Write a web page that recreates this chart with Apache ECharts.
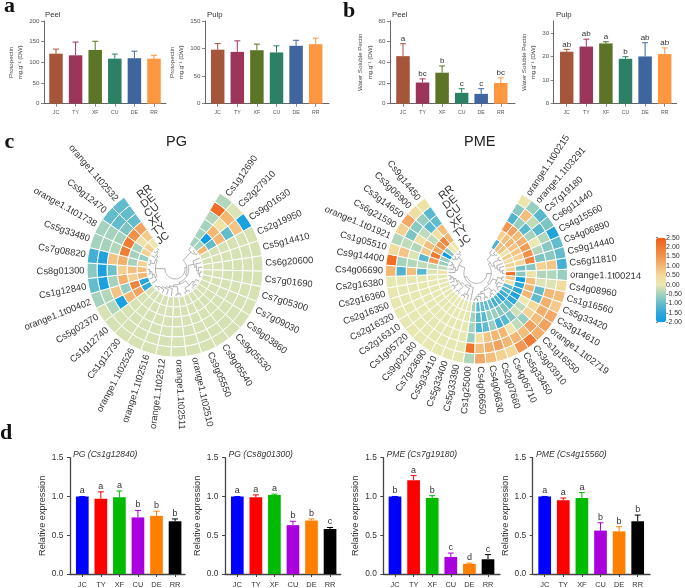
<!DOCTYPE html>
<html><head><meta charset="utf-8">
<style>html,body{margin:0;padding:0;background:#fff}#c{width:685px;height:588px}</style>
<script src="https://cdn.jsdelivr.net/npm/echarts@6/dist/echarts.min.js"></script>
</head><body><div id="c"></div>
<script>
// ---------- DATA ----------
const cultivars = ['JC','TY','XF','CU','DE','RR'];
const protoPeelMean = [121,117,130,109,110,109];
const protoPeelTop  = [132,149,151,120,127,117];
const protoPulpMean = [98,94,97,93,105,108];
const protoPulpTop  = [109,114,108,105,115,119];
const wspPeelMean = [46,20.5,30,10.5,9.5,20];
const wspPeelTop  = [58,24,36.5,14.5,14.5,25];
const wspPeelSig  = ['a','bc','b','c','c','bc'];
const wspPulpMean = [22,24.2,25.5,19,20,21];
const wspPulpTop  = [23,27.3,26.2,19.9,25.8,23.6];
const wspPulpSig  = ['ab','ab','a','b','ab','ab'];
const pg1Mean = [1,.97,.99,.73,.75,.68];
const pg1Top  = [1,1.06,1.07,.82,.81,.71];
const pg1Sig  = ['a','a','a','b','b','b'];
const pg2Mean = [1,.99,1.02,.63,.69,.58];
const pg2Top  = [1,1.02,1.03,.68,.71,.6];
const pg2Sig  = ['a','a','a','b','b','c'];
const pme1Mean = [1,1.21,.98,.22,.13,.19];
const pme1Top  = [1,1.27,1.01,.27,.14,.25];
const pme1Sig  = ['b','a','b','c','d','c'];
const pme2Mean = [1,.95,.98,.56,.55,.68];
const pme2Top  = [1,.98,1.05,.66,.61,.76];
const pme2Sig  = ['a','a','a','b','b','b'];
const pgGenes = ['Cs1g12690','Cs2g27910','Cs9g01630','Cs2g19950','Cs5g14410','Cs6g20600','Cs7g01690','Cs7g05300','Cs7g09030','Cs9g03860','Cs9g05530','Cs9g05540','Cs9g05550','orange1.1t02510','orange1.1t02511','orange1.1t02512','orange1.1t02516','orange1.1t02526','Cs1g12730','Cs1g12740','Cs5g02370','orange1.1t00402','Cs1g12840','Cs8g01300','Cs7g08820','Cs5g33480','orange1.1t01738','Cs9g12470','orange1.1t02532'];
const pgValues = [
[-.5,-.5,-.5,-.4,2.2,-.4],[-.5,-2,1,.2,1,-.1],[1,-1,1,-1,.8,-1.8],
[-.15,-.15,-.15,-.15,-.15,-.15],[-.15,-.15,-.15,-.15,-.15,-.15],[-.15,-.15,-.15,-.15,-.15,-.15],
[-.15,-.15,-.15,-.15,-.15,-.15],[-.15,-.15,-.15,-.15,-.15,-.15],[-.15,-.15,-.15,-.15,-.15,-.15],
[-.15,-.15,-.15,-.15,-.15,-.15],[-.15,-.15,-.15,-.15,-.15,-.15],[-.15,-.15,-.15,-.15,-.15,-.15],
[-.15,-.15,-.15,-.15,-.15,-.15],[-.15,-.15,-.15,-.15,-.15,-.15],[-.15,-.15,-.15,-.15,-.15,-.15],
[-.15,-.15,-.15,-.15,-.15,-.15],[-.15,-.15,-.15,-.15,-.15,-.15],[-.15,-.15,-.15,-.15,-.15,-.15],
[-.15,-.15,-.15,-.15,-.15,-.15],[-.15,-.15,-.15,-.15,-.15,-.15],
[-1.5,1.3,1,-1.8,-.4,-.15],[-1.6,1.8,-.6,.8,-.4,-.5],[1,.6,1.1,-.5,-1.8,-1],[.9,.9,.6,-.9,-1.8,-.7],
[.6,-.5,1.1,.8,-1.7,-1.3],[-.6,-.5,1.9,-.4,-.5,-.5],[.6,-.5,2,-.5,-.5,-.5],[.6,.2,1.6,-.8,-1,-1],[.1,.7,1.3,-1,-1,-1]];
const pmeGenes = ['orange1.1t00215','orange1.1t03291','Cs7g19180','Cs6g11440','Cs4g15560','Cs4g06890','Cs9g14440','Cs6g11810','orange1.1t00214','Cs4g08960','Cs1g16560','Cs5g33420','Cs3g14610','orange1.1t02719','Cs1g16550','Cs3g03910','Cs5g33450','Cs4g06710','Cs2g07660','Cs4g06630','Cs4g06650','Cs1g25000','Cs5g33390','Cs5g33400','Cs5g33410','Cs7g23690','Cs9g02180','Cs1g05720','Cs2g16310','Cs2g16320','Cs2g16350','Cs2g16360','Cs2g16380','Cs4g06690','Cs9g14400','Cs1g05510','orange1.1t01921','Cs6g21590','Cs3g14650','Cs3g06900','Cs9g14450'];
const pmeValues = [
[-1.2,.6,1.5,-1.2,-.7,.1],[.9,.9,1.3,-.6,.9,-.6],[.8,1,.9,-1.1,-.3,-1.1],[.1,.8,1.1,-.5,-1.1,-.8],
[.7,.8,1.4,0,-.4,-1.7],[.4,.6,1.6,-.4,-.7,-1],[.6,.5,1.8,-.8,-.7,-1],[.5,-.9,-.7,.6,.8,-1.3],
[2.2,-.7,.2,-.4,-.4,-.6],[.8,-1.9,.9,-.1,-.1,.4],[.2,-1.5,1,-1,1,.9],[-1,-1.5,1,-1,1.1,.7],
[-1.1,-1.7,0,.5,1.1,1.2],[-1.3,-1.5,-.3,.6,.9,1.3],[-1.6,-1,-.2,-.6,1.3,1.1],[-1.2,-.8,-.8,-.3,.9,2],
[-1.3,-.7,-1.1,.1,1,1.5],[-1,-.6,-1.3,1,1,.5],[-1,-.6,-.6,1,1.3,.6],[-1,-1.1,-1,.8,1.1,.9],
[-1.1,-1.1,-1.2,.3,.9,1.2],[-.5,-.5,-.5,-.6,2.1,-.4],
[-.03,-.03,-.03,-.03,-.03,-.03],[-.03,-.03,-.03,-.03,-.03,-.03],[-.03,-.03,-.03,-.03,-.03,-.03],
[-.03,-.03,-.03,-.03,-.03,-.03],[-.03,-.03,-.03,-.03,-.03,-.03],[-.03,-.03,-.03,-.03,-.03,-.03],
[-.03,-.03,-.03,-.03,-.03,-.03],[-.03,-.03,-.03,-.03,-.03,-.03],[-.03,-.03,-.03,-.03,-.03,-.03],
[-.03,-.03,-.03,-.03,-.03,-.03],[-.03,-.03,-.03,-.03,-.03,-.03],
[.3,-.1,-1.1,.9,-1.2,1],[-.3,-.3,-.3,-.4,-.5,2.2],[-.6,1.4,-1.1,-.1,.8,.4],[-.6,2,.7,-.4,-.3,-.4],
[-2,1.2,.9,.3,-.8,.6],[-.7,1.5,-.3,-.3,-.7,1.2],[0,1.8,.3,-1.1,-.6,.3],[0,1,.9,-1,-1.1,.2]];
// cluster structure: nested groups of consecutive genes
const pgTree = [[[0,[0,0]],[[0,[0,[0,[0,0]]]],[[[0,[0,0]],[0,0]],[[0,0],[0,[0,[0,[0,0]]]]]]]],[[0,[0,[0,0]]],[[0,0],[0,[0,0]]]]];
const pmeTree = [[[[0,[0,0]],[[0,0],[0,[0,[0,0]]]]],[[[0,0],[0,[0,0]]],[[0,[0,0]],[[0,0],[0,[0,0]]]]]],[[0,[[0,[0,0]],[[0,0],[[0,0],[0,[0,0]]]]]],[[0,[0,[0,0]]],[[0,0],[0,0]]]]];
const colorTicks = [-2,-1.5,-1,-.5,0,.5,1,1.5,2,2.5];
const colorStops = ['#0d9ce6','#2ea8d8','#63bccb','#a4d2bd','#ebe8b0','#f3d89a','#f3b673','#f19550','#f07a32','#ef5b14'];
const soilColors = ['#a5553a','#9c355a','#5b7428','#2b8065','#3f659f','#ff9640'];
const qpcrColors = ['#0000ff','#ff0000','#00bb00','#aa00dd','#ff8000','#000000'];

// ---------- LAYOUT ----------
const SANS = '"Liberation Sans",Arial,sans-serif';
const small = {axis:'#666',axisW:1,text:'#555',yFont:6.2,xFont:5.2,nameFont:6.2,titleFont:7.8,barW:13.5,cap:3,sigFont:8,y0:103.7,top:21,tick:3,nameColor:'#444',xMargin:6,yMargin:4.5,line:9.5};
const large = {axis:'#444',axisW:1.3,text:'#333',yFont:8.4,xFont:7.4,nameFont:9.2,titleFont:8.6,barW:12.7,cap:3,sigFont:9,y0:574.7,top:457.7,tick:3,nameColor:'#333',titleItalic:true,xMargin:7,yMargin:6.5,line:11};
const panels = [
 {s:small,L:44,R:166,c0:56,step:19.6,max:200,ticks:[0,50,100,150,200],mean:protoPeelMean,topv:protoPeelTop,colors:soilColors,title:'Peel',tx:45,ty:10.5,name:'Protopectin\nmg.g⁻¹ (DW)',gap:18},
 {s:small,L:205,R:329,c0:217.7,step:19.6,max:150,ticks:[0,50,100,150],mean:protoPulpMean,topv:protoPulpTop,colors:soilColors,title:'Pulp',tx:207,ty:10.5,name:'Protopectin\nmg.g⁻¹ (DW)',gap:18},
 {s:small,L:390,R:515,c0:403,step:19.55,max:80,ticks:[0,20,40,60,80],mean:wspPeelMean,topv:wspPeelTop,sig:wspPeelSig,colors:soilColors,title:'Peel',tx:392,ty:10.5,name:'Water Soluble Pectin\nmg.g⁻¹ (DW)',gap:12},
 {s:small,L:553.7,R:676.7,c0:566.7,step:19.6,max:35,ticks:[0,10,20,30],mean:wspPulpMean,topv:wspPulpTop,sig:wspPulpSig,colors:soilColors,title:'Pulp',tx:556,ty:10.5,name:'Water Soluble Pectin\nmg.g⁻¹ (DW)',gap:12},
 {s:large,L:70,R:185,c0:82.3,step:18.55,max:1.5,ticks:[0,.5,1,1.5],mean:pg1Mean,topv:pg1Top,sig:pg1Sig,colors:qpcrColors,title:'PG (Cs1g12840)',tx:73,ty:450,name:'Relative expression',gap:21,dec:1},
 {s:large,L:225,R:340.7,c0:237.3,step:18.55,max:1.5,ticks:[0,.5,1,1.5],mean:pg2Mean,topv:pg2Top,sig:pg2Sig,colors:qpcrColors,title:'PG (Cs8g01300)',tx:228.5,ty:450,name:'Relative expression',gap:21,dec:1},
 {s:large,L:383.3,R:500,c0:395,step:18.6,max:1.5,ticks:[0,.5,1,1.5],mean:pme1Mean,topv:pme1Top,sig:pme1Sig,colors:qpcrColors,title:'PME (Cs7g19180)',tx:386.5,ty:450,name:'Relative expression',gap:21,dec:1},
 {s:large,L:532.7,R:650,c0:544.7,step:18.6,max:1.5,ticks:[0,.5,1,1.5],mean:pme2Mean,topv:pme2Top,sig:pme2Sig,colors:qpcrColors,title:'PME (Cs4g15560)',tx:536,ty:450,name:'Relative expression',gap:21,dec:1}
];
const heats = [
 {genes:pgGenes,values:pgValues,tree:pgTree,center:[175,269],radius:88,startDeg:30.6,stepDeg:10.14,ringAt:338.5,font:9.4},
 {genes:pmeGenes,values:pmeValues,tree:pmeTree,center:[476.5,273],radius:91,startDeg:30,stepDeg:7.205,ringAt:339.5,font:9.4}
];
const RING0 = 2.8, OUTER = 8.8, ROOT_R = 1.0, LEAF_R = 2.72;

// ---------- OPTION ----------
const grid=[],xAxis=[],yAxis=[],series=[],graphic=[];
const text=(t,x,y,o)=>({type:'text',x:x,y:y,silent:true,rotation:o.rotation||0,style:Object.assign({text:t,fontFamily:SANS,fill:'#222',textVerticalAlign:'top'},o.style)});

panels.forEach((p,i)=>{
  const s=p.s;
  grid.push({left:p.L,width:p.R-p.L,top:s.top,height:s.y0-s.top});
  xAxis.push({type:'value',gridIndex:i,min:(p.L-p.c0)/p.step,max:(p.R-p.c0)/p.step,splitLine:{show:false},
    axisLine:{onZero:false,lineStyle:{color:s.axis,width:s.axisW}},
    axisTick:{length:s.tick,customValues:[0,1,2,3,4,5],lineStyle:{color:s.axis,width:s.axisW*0.8}},
    axisLabel:{customValues:[0,1,2,3,4,5],formatter:v=>cultivars[Math.round(v)],color:s.text,fontSize:s.xFont,fontFamily:SANS,margin:s.xMargin,hideOverlap:false}});
  yAxis.push({type:'value',gridIndex:i,min:0,max:p.max,splitLine:{show:false},
    axisLine:{show:true,onZero:false,lineStyle:{color:s.axis,width:s.axisW}},
    axisTick:{show:true,length:s.tick,customValues:p.ticks,lineStyle:{color:s.axis,width:s.axisW*0.8}},
    axisLabel:{customValues:p.ticks,formatter:v=>p.dec?v.toFixed(p.dec):String(v),color:s.text,fontSize:s.yFont,fontFamily:SANS,margin:s.yMargin},
    name:p.name,nameLocation:'middle',nameRotate:90,nameGap:p.gap,
    nameTextStyle:{fontSize:s.nameFont,color:s.nameColor,fontFamily:SANS,lineHeight:s.line}});
  series.push({type:'bar',xAxisIndex:i,yAxisIndex:i,barWidth:s.barW,silent:true,animation:false,
    data:p.mean.map((v,j)=>[j,v]),itemStyle:{color:q=>p.colors[q.dataIndex]}});
  series.push({type:'custom',xAxisIndex:i,yAxisIndex:i,silent:true,animation:false,clip:false,
    encode:{x:0,y:1},data:p.topv.map((v,j)=>[j,v,p.mean[j]]),
    renderItem:(params,api)=>{
      const j=api.value(0),a=api.coord([j,api.value(2)]),b=api.coord([j,api.value(1)]),c=p.colors[j],kids=[];
      const ln={stroke:c,lineWidth:1};
      kids.push({type:'line',shape:{x1:a[0],y1:a[1],x2:b[0],y2:b[1]},style:ln});
      kids.push({type:'line',shape:{x1:b[0]-s.cap,y1:b[1],x2:b[0]+s.cap,y2:b[1]},style:ln});
      if(p.sig) kids.push({type:'text',style:{text:p.sig[j],x:b[0],y:b[1]-1,textAlign:'center',textVerticalAlign:'bottom',fontSize:s.sigFont,fontFamily:SANS,fill:'#333'}});
      return {type:'group',children:kids};
    }});
  graphic.push(text(p.title,p.tx,p.ty,{style:{fontSize:s.titleFont,fontStyle:s.titleItalic?'italic':'normal',fill:'#333'}}));
});

// colour-bar tick axis
const legendIdx=panels.length;
grid.push({left:656,width:10,top:237.7,height:84.6});
xAxis.push({type:'value',gridIndex:legendIdx,show:false,min:0,max:1});
yAxis.push({type:'value',gridIndex:legendIdx,position:'right',min:-2,max:2.5,interval:.5,splitLine:{show:false},
  axisLine:{show:false},axisTick:{show:true,length:2,lineStyle:{color:'#666',width:.8}},
  axisLabel:{formatter:v=>v.toFixed(2),fontSize:7,color:'#333',fontFamily:SANS,margin:2.5}});

// circular heat maps
const polar=[],radiusAxis=[],angleAxis=[],heatSeriesIdx=[];
function treeSegments(tree){
  const height=n=>Array.isArray(n)?1+Math.max(...n.map(height)):0, H=height(tree), rad=h=>LEAF_R-(LEAF_R-ROOT_R)*h/H;
  let leaf=0; const segs=[];
  (function walk(n){
    if(!Array.isArray(n)) return {a:(leaf++)+.5,h:0};
    const kids=n.map(walk),h=1+Math.max(...kids.map(k=>k.h)),r=rad(h);
    kids.forEach(k=>segs.push([rad(k.h),k.a,r,k.a]));
    const as=kids.map(k=>k.a),a0=Math.min(...as),a1=Math.max(...as);
    segs.push([r,a0,r,a1]);
    return {a:(a0+a1)/2,h};
  })(tree);
  return segs;
}
heats.forEach((h,pi)=>{
  polar.push({center:h.center,radius:h.radius});
  radiusAxis.push({polarIndex:pi,type:'value',min:0,max:OUTER,show:false});
  angleAxis.push({polarIndex:pi,type:'value',min:0,max:360/h.stepDeg,startAngle:90-h.startDeg,clockwise:true,show:false});
  const base={type:'custom',coordinateSystem:'polar',polarIndex:pi,silent:true,animation:false,clip:false,encode:{radius:0,angle:1}};
  const cells=[];
  h.values.forEach((row,k)=>row.forEach((v,ring)=>cells.push([ring,k,v])));
  heatSeriesIdx.push(series.length);
  series.push(Object.assign({},base,{data:cells,dimensions:['ring','gene','z'],
    encode:{radius:0,angle:1,value:2},
    renderItem:(params,api)=>{
      const ring=api.value(0),k=api.value(1),cs=params.coordSys,cx=cs.cx,cy=cs.cy;
      const a=api.coord([RING0+ring,k]),b=api.coord([RING0+ring+1,k+1]);
      const r0=Math.hypot(a[0]-cx,a[1]-cy),r=Math.hypot(b[0]-cx,b[1]-cy);
      const sa=Math.atan2(a[1]-cy,a[0]-cx);let ea=Math.atan2(b[1]-cy,b[0]-cx);if(ea<sa)ea+=Math.PI*2;
      return {type:'sector',shape:{cx,cy,r0,r,startAngle:sa,endAngle:ea,clockwise:true},
        style:{fill:api.visual('color'),stroke:'#fff',lineWidth:1}};
    }}));
  series.push(Object.assign({},base,{data:treeSegments(h.tree),encode:{radius:0,angle:1},
    renderItem:(params,api)=>{
      const r1=api.value(0),a1=api.value(1),r2=api.value(2),a2=api.value(3),pts=[];
      const n=r1===r2?Math.max(2,Math.ceil(Math.abs(a2-a1)*3)):1;
      for(let i=0;i<=n;i++)pts.push(api.coord([r1+(r2-r1)*i/n,a1+(a2-a1)*i/n]));
      return {type:'polyline',shape:{points:pts},style:{stroke:'#8e8e8e',lineWidth:.7,fill:null}};
    }}));
  series.push(Object.assign({},base,{data:h.genes.map((g,k)=>[OUTER+.25,k+.5]),
    renderItem:(params,api)=>{
      const k=api.value(1),p=api.coord([api.value(0),k]),deg=h.startDeg+h.stepDeg*k;
      const left=deg>180,rot=(left?270-deg:90-deg)*Math.PI/180;
      return {type:'text',x:p[0],y:p[1],rotation:rot,style:{text:h.genes[params.dataIndex],fontSize:h.font,fontFamily:SANS,fill:'#333',
        textAlign:left?'right':'left',textVerticalAlign:'middle'}};
    }}));
  const ringGene=(h.ringAt-h.startDeg)/h.stepDeg;
  series.push(Object.assign({},base,{data:cultivars.map((c,i)=>[RING0+i+.5,ringGene]),
    renderItem:(params,api)=>{
      const p=api.coord([api.value(0),api.value(1)]);
      return {type:'text',x:p[0],y:p[1],rotation:38*Math.PI/180,style:{text:cultivars[params.dataIndex],fontSize:11,fontFamily:SANS,fill:'#333',textAlign:'center',textVerticalAlign:'middle'}};
    }}));
});

// headings
const heading=(t,x,y,size)=>text(t,x,y,{style:{fontSize:size||22,fontWeight:'bold',fontFamily:'"Liberation Serif",serif',fill:'#111',textVerticalAlign:'bottom'}});
graphic.push(heading('a',4,17),heading('b',343,22),heading('c',4.5,153),heading('d',0,444));
graphic.push(text('PG',166,134,{style:{fontSize:14.5,fill:'#222'}}));
graphic.push(text('PME',464,134,{style:{fontSize:14.5,fill:'#222'}}));

const option={animation:false,backgroundColor:'#fff',grid,xAxis,yAxis,polar,radiusAxis,angleAxis,series,
  graphic:{elements:graphic},
  visualMap:{type:'continuous',min:-2,max:2.5,dimension:2,seriesIndex:heatSeriesIdx,inRange:{color:colorStops},
    left:656,top:237.7,itemWidth:10,itemHeight:84.6,padding:0,calculable:false,text:null,hoverLink:false,silent:true,showLabel:false}};
const chart=echarts.init(document.getElementById('c'),null,{renderer:'canvas',width:685,height:588});
chart.setOption(option);
</script></body></html>
